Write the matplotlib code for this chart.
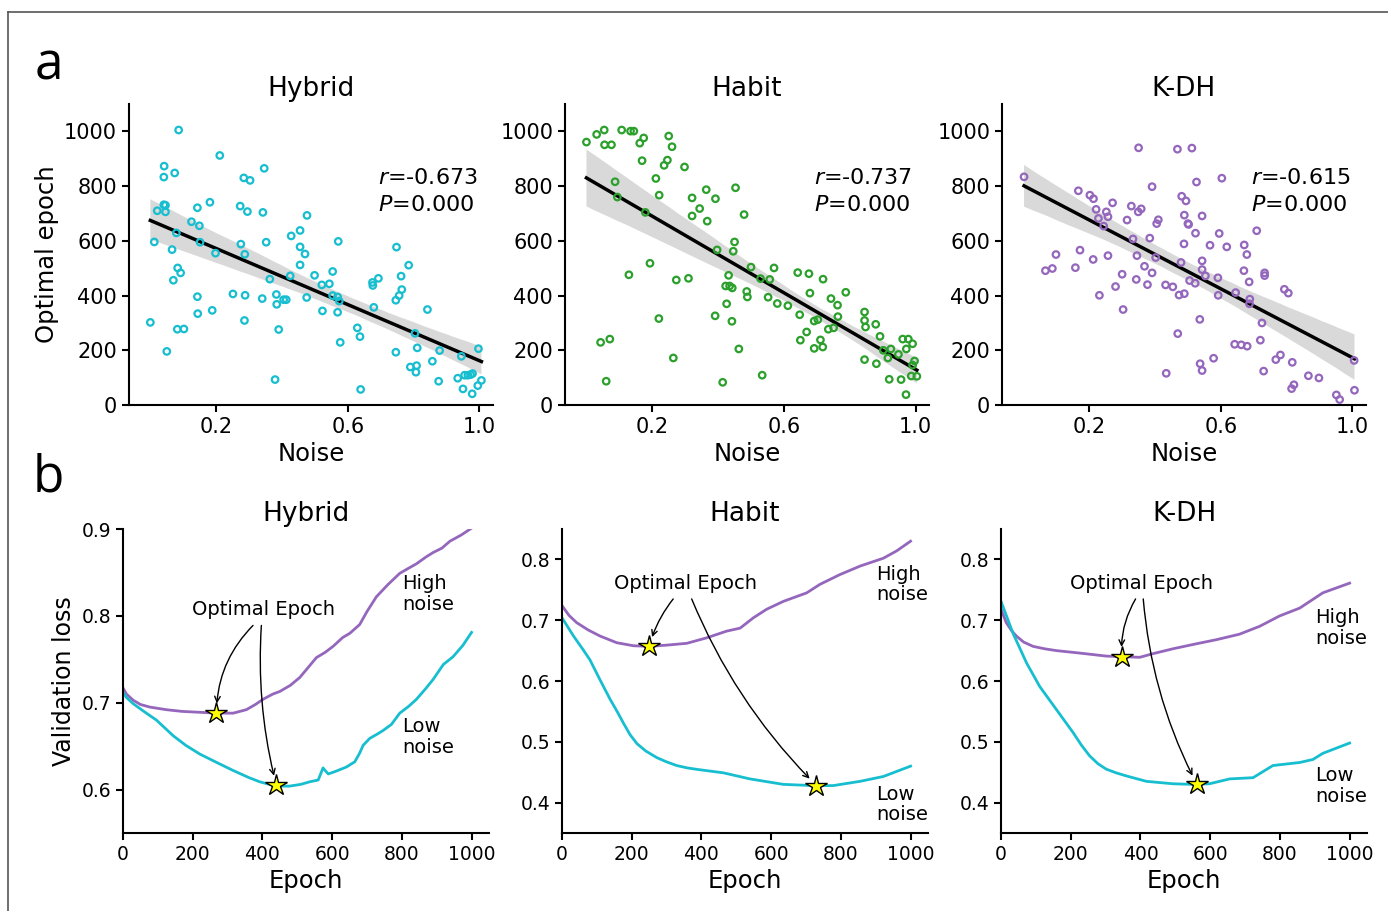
import numpy as np
import matplotlib.pyplot as plt
import seaborn as sns
from matplotlib.lines import Line2D

# ---- panel a: optimal epoch vs noise ----
models = ['Hybrid', 'Habit', 'K-DH']
colors = ['#17becf', '#2ca02c', '#9467bd']
r_vals = ['-0.673', '-0.737', '-0.615']
p_vals = ['0.000', '0.000', '0.000']

hybrid_noise = [0.000, 0.012, 0.021, 0.041, 0.046, 0.046, 0.041, 0.042, 0.074, 0.086,
                0.050, 0.066, 0.070, 0.079, 0.083, 0.092, 0.082, 0.102, 0.125, 0.143,
                0.149, 0.151, 0.143, 0.144, 0.181, 0.188, 0.198, 0.211, 0.251, 0.273,
                0.275, 0.284, 0.287, 0.288, 0.286, 0.295, 0.303, 0.340, 0.342, 0.346,
                0.352, 0.363, 0.379, 0.383, 0.384, 0.390, 0.405, 0.413, 0.425, 0.428,
                0.455, 0.455, 0.455, 0.470, 0.476, 0.475, 0.499, 0.521, 0.523, 0.544,
                0.554, 0.554, 0.571, 0.569, 0.569, 0.574, 0.577, 0.629, 0.637, 0.639,
                0.675, 0.676, 0.679, 0.693, 0.746, 0.748, 0.746, 0.756, 0.762, 0.764,
                0.785, 0.790, 0.804, 0.809, 0.807, 0.811, 0.842, 0.857, 0.876, 0.879,
                0.934, 0.945, 0.950, 0.955, 0.965, 0.973, 0.978, 0.979, 0.995, 0.997, 1.006]
hybrid_epoch = [302, 596, 710, 732, 730, 706, 833, 873, 848, 1005,
                196, 568, 456, 629, 501, 483, 277, 278, 670, 721,
                655, 595, 396, 334, 741, 346, 555, 912, 406, 727,
                588, 830, 551, 401, 309, 707, 821, 389, 704, 865,
                595, 460, 93, 404, 368, 276, 385, 385, 472, 618,
                638, 578, 512, 552, 693, 393, 474, 439, 344, 443,
                488, 400, 598, 395, 339, 380, 229, 282, 250, 57,
                448, 437, 357, 463, 193, 577, 383, 400, 471, 422,
                511, 139, 262, 144, 120, 209, 349, 160, 87, 199,
                98, 178, 59, 109, 109, 111, 41, 115, 71, 206, 90]

habit_noise = [0.000, 0.031, 0.054, 0.055, 0.076, 0.107, 0.134, 0.144, 0.162, 0.174,
               0.087, 0.094, 0.169, 0.179, 0.211, 0.221, 0.236, 0.246, 0.250, 0.260,
               0.298, 0.321, 0.321, 0.344, 0.367, 0.364, 0.392, 0.453, 0.479, 0.397,
               0.450, 0.446, 0.432, 0.423, 0.435, 0.443, 0.426, 0.442, 0.391, 0.414,
               0.463, 0.534, 0.500, 0.529, 0.557, 0.570, 0.487, 0.489, 0.552, 0.580,
               0.612, 0.642, 0.676, 0.679, 0.719, 0.743, 0.763, 0.764, 0.788, 0.648,
               0.669, 0.650, 0.692, 0.703, 0.692, 0.711, 0.718, 0.735, 0.751, 0.845,
               0.845, 0.848, 0.879, 0.892, 0.845, 0.881, 0.902, 0.916, 0.925, 0.948,
               0.920, 0.956, 0.961, 0.978, 0.991, 0.972, 0.971, 0.987, 0.991, 0.997,
               1.004, 0.129, 0.193, 0.273, 0.310, 0.220, 0.264, 0.043, 0.071, 0.060]
habit_epoch = [961, 989, 1005, 951, 951, 1005, 1001, 1001, 957, 976,
               816, 760, 893, 704, 828, 767, 876, 895, 983, 944,
               870, 757, 691, 718, 672, 787, 754, 794, 696, 567,
               596, 562, 474, 435, 435, 428, 370, 306, 326, 83,
               205, 109, 504, 462, 459, 501, 415, 395, 394, 371,
               363, 484, 480, 409, 460, 389, 365, 323, 412, 330,
               267, 237, 307, 312, 207, 238, 212, 277, 282, 340,
               309, 285, 295, 251, 166, 151, 200, 172, 205, 185,
               94, 93, 241, 241, 224, 205, 38, 106, 146, 161,
               105, 476, 518, 457, 463, 316, 172, 229, 241, 87]

kdh_noise = [0.002, 0.167, 0.202, 0.213, 0.221, 0.228, 0.244, 0.252, 0.257, 0.271,
             0.328, 0.349, 0.358, 0.315, 0.333, 0.384, 0.391, 0.350, 0.405, 0.410,
             0.468, 0.512, 0.526, 0.603, 0.481, 0.494, 0.489, 0.502, 0.500, 0.543,
             0.523, 0.488, 0.595, 0.567, 0.618, 0.671, 0.679, 0.709, 0.099, 0.172,
             0.212, 0.257, 0.345, 0.368, 0.391, 0.402, 0.479, 0.543, 0.543, 0.553,
             0.067, 0.088, 0.158, 0.300, 0.343, 0.377, 0.280, 0.432, 0.454, 0.473,
             0.489, 0.505, 0.522, 0.591, 0.592, 0.645, 0.670, 0.686, 0.688, 0.687,
             0.733, 0.733, 0.793, 0.805, 0.231, 0.303, 0.536, 0.469, 0.725, 0.720,
             0.642, 0.662, 0.680, 0.578, 0.537, 0.543, 0.434, 0.767, 0.781, 0.817,
             0.730, 0.822, 0.815, 0.866, 0.898, 0.951, 0.961, 1.005, 1.006]
kdh_epoch = [834, 783, 767, 754, 715, 682, 654, 706, 688, 739,
             727, 706, 717, 676, 607, 610, 798, 940, 663, 677,
             935, 939, 815, 829, 763, 746, 694, 660, 663, 691,
             628, 589, 627, 584, 578, 585, 550, 637, 550, 566,
             532, 546, 546, 507, 483, 539, 521, 527, 495, 472,
             491, 499, 502, 478, 459, 440, 433, 439, 432, 402,
             407, 455, 445, 465, 401, 411, 491, 450, 387, 370,
             483, 473, 423, 409, 401, 349, 313, 261, 300, 237,
             222, 220, 215, 171, 151, 126, 116, 166, 183, 156,
             124, 74, 60, 107, 99, 37, 20, 163, 54]

scatter_data = [(hybrid_noise, hybrid_epoch), (habit_noise, habit_epoch), (kdh_noise, kdh_epoch)]

# ---- panel b: validation loss curves ----
hybrid_high_ep = [0, 10, 29, 50, 77, 124, 170, 220, 268, 316, 354, 380, 402, 430, 450, 480, 507, 530, 555, 580,
                  603, 630, 651, 679, 700, 727, 760, 794, 820, 842, 870, 890, 915, 938, 970, 1000]
hybrid_high_loss = [0.717, 0.710, 0.703, 0.698, 0.695, 0.692, 0.690, 0.689, 0.688, 0.688, 0.692, 0.698, 0.704,
                    0.710, 0.713, 0.720, 0.729, 0.740, 0.752, 0.758, 0.765, 0.775, 0.780, 0.790, 0.805, 0.822,
                    0.836, 0.849, 0.855, 0.860, 0.868, 0.873, 0.878, 0.886, 0.893, 0.901]
hybrid_low_ep = [0, 10, 29, 60, 96, 120, 144, 180, 220, 270, 316, 360, 392, 420, 440, 460, 478, 510, 536, 560,
                 568, 574, 580, 589, 610, 641, 665, 679, 689, 708, 730, 746, 770, 794, 820, 842, 870, 890, 919,
                 947, 975, 1000]
hybrid_low_loss = [0.712, 0.706, 0.699, 0.690, 0.680, 0.671, 0.662, 0.651, 0.641, 0.631, 0.622, 0.614, 0.609,
                   0.606, 0.604, 0.604, 0.604, 0.606, 0.609, 0.611, 0.619, 0.625, 0.622, 0.618, 0.621, 0.626,
                   0.632, 0.642, 0.651, 0.659, 0.664, 0.668, 0.675, 0.688, 0.696, 0.704, 0.717, 0.727, 0.744,
                   0.753, 0.766, 0.781]

habit_high_ep = [0, 20, 42, 75, 109, 157, 205, 250, 300, 358, 415, 472, 511, 549, 587, 635, 702, 740, 797, 855,
                 922, 960, 1000]
habit_high_loss = [0.724, 0.708, 0.696, 0.684, 0.674, 0.663, 0.658, 0.657, 0.659, 0.662, 0.671, 0.682, 0.687,
                   0.704, 0.718, 0.731, 0.745, 0.759, 0.775, 0.789, 0.802, 0.814, 0.830]
habit_low_ep = [0, 33, 60, 80, 109, 138, 160, 176, 195, 215, 240, 272, 300, 329, 360, 396, 463, 539, 635, 721,
                778, 855, 922, 1000]
habit_low_loss = [0.704, 0.674, 0.652, 0.635, 0.602, 0.570, 0.548, 0.531, 0.512, 0.497, 0.485, 0.474, 0.467,
                  0.461, 0.457, 0.454, 0.449, 0.439, 0.430, 0.428, 0.428, 0.435, 0.443, 0.460]

kdh_high_ep = [0, 15, 30, 44, 65, 92, 125, 159, 225, 302, 350, 398, 436, 493, 550, 618, 684, 742, 799, 857,
               923, 1000]
kdh_high_loss = [0.718, 0.696, 0.683, 0.674, 0.664, 0.657, 0.653, 0.650, 0.646, 0.641, 0.640, 0.639, 0.645,
                 0.653, 0.660, 0.668, 0.677, 0.690, 0.707, 0.720, 0.745, 0.761]
kdh_low_ep = [0, 34, 73, 111, 159, 207, 230, 254, 278, 302, 330, 359, 417, 493, 550, 598, 656, 723, 780, 857,
              895, 923, 1000]
kdh_low_loss = [0.731, 0.679, 0.630, 0.591, 0.553, 0.515, 0.495, 0.477, 0.464, 0.455, 0.449, 0.444, 0.435,
                0.431, 0.430, 0.431, 0.439, 0.441, 0.461, 0.466, 0.471, 0.481, 0.498]

curves = [(hybrid_high_ep, hybrid_high_loss, hybrid_low_ep, hybrid_low_loss),
          (habit_high_ep, habit_high_loss, habit_low_ep, habit_low_loss),
          (kdh_high_ep, kdh_high_loss, kdh_low_ep, kdh_low_loss)]

opt_high_epoch = [268, 250, 346]
opt_high_loss = [0.688, 0.657, 0.640]
opt_low_epoch = [440, 730, 562]
opt_low_loss = [0.605, 0.428, 0.430]

high_col = '#9467bd'
low_col = '#17becf'

fig = plt.figure(figsize=(13.88, 9.11), dpi=100)

top_left = [0.0929, 0.4071, 0.7219]
bot_left = [0.0886, 0.4049, 0.7212]

for i, name in enumerate(models):
    ax = fig.add_axes([top_left[i], 0.5554, 0.262, 0.3304])
    x, y = scatter_data[i]
    ax.scatter(x, y, s=22, facecolors='none', edgecolors=colors[i], linewidths=1.6, zorder=3)
    sns.regplot(x=np.array(x), y=np.array(y), scatter=False, ax=ax, color='black',
                line_kws=dict(lw=2.5), seed=0)
    ax.set_xlim(-0.065, 1.04)
    ax.set_ylim(0, 1100)
    ax.set_xticks([0.2, 0.6, 1.0])
    ax.set_xticklabels(['0.2', '0.6', '1.0'])
    ax.set_yticks(range(0, 1001, 200))
    ax.tick_params(labelsize=15, width=1.5, length=5)
    for s in ['top', 'right']:
        ax.spines[s].set_visible(False)
    for s in ['left', 'bottom']:
        ax.spines[s].set_linewidth(1.5)
    ax.set_title(name, fontsize=19)
    ax.set_xlabel('Noise', fontsize=17.5, labelpad=4)
    if i == 0:
        ax.set_ylabel('Optimal epoch', fontsize=17.5)
    ax.text(0.685, 0.71, f'$r$={r_vals[i]}\n$P$={p_vals[i]}', transform=ax.transAxes,
            fontsize=16, ha='left', va='center', linespacing=1.45)

text_pos = [(404, 0.807), (353, 0.7605), (404, 0.7605)]
arrow_start = [[(373, 0.789), (397, 0.789)],
               [(319, 0.735), (372, 0.735)],
               [(386, 0.735), (408, 0.735)]]
arrow_rad = [(0.2, 0.08), (0.1, 0.1), (0.15, 0.1)]
high_lab = [(802, 0.848), (902, 0.791), (902, 0.720)]
low_lab = [(802, 0.683), (902, 0.429), (902, 0.460)]

for i, name in enumerate(models):
    ax = fig.add_axes([bot_left[i], 0.0856, 0.2637, 0.3337])
    he, hl, le, ll = curves[i]
    ax.plot(he, hl, color=high_col, lw=2)
    ax.plot(le, ll, color=low_col, lw=2)
    ax.plot([opt_high_epoch[i], opt_low_epoch[i]], [opt_high_loss[i], opt_low_loss[i]], ls='none',
            marker='*', ms=16, mfc='yellow', mec='black', mew=1, zorder=5)
    ax.text(text_pos[i][0], text_pos[i][1], 'Optimal Epoch', fontsize=14, ha='center', va='center')
    targets = [(opt_high_epoch[i], opt_high_loss[i]), (opt_low_epoch[i], opt_low_loss[i])]
    for j in range(2):
        ax.annotate('', xy=targets[j], xytext=arrow_start[i][j],
                    arrowprops=dict(arrowstyle='->', color='black', lw=1, shrinkA=0, shrinkB=7,
                                    connectionstyle=f'arc3,rad={arrow_rad[i][j]}'))
    ax.text(high_lab[i][0], high_lab[i][1], 'High\nnoise', fontsize=14, ha='left', va='top', linespacing=1.1)
    ax.text(low_lab[i][0], low_lab[i][1], 'Low\nnoise', fontsize=14, ha='left', va='top', linespacing=1.1)
    ax.set_xlim(0, 1050)
    ax.set_xticks(range(0, 1001, 200))
    if i == 0:
        ax.set_ylim(0.55, 0.9)
        ax.set_yticks([0.6, 0.7, 0.8, 0.9])
        ax.set_ylabel('Validation loss', fontsize=17)
    else:
        ax.set_ylim(0.35, 0.85)
        ax.set_yticks([0.4, 0.5, 0.6, 0.7, 0.8])
    ax.tick_params(labelsize=13.5, width=1.5, length=5)
    for s in ['top', 'right']:
        ax.spines[s].set_visible(False)
    for s in ['left', 'bottom']:
        ax.spines[s].set_linewidth(1.5)
    ax.set_title(name, fontsize=19)
    ax.set_xlabel('Epoch', fontsize=17.5, labelpad=4)

fig.text(35 / 1388, 1 - 80 / 911, 'a', fontsize=37, family='Open Sans', ha='left', va='baseline')
fig.text(33 / 1388, 1 - 492 / 911, 'b', fontsize=37, family='Open Sans', ha='left', va='baseline')

# thin frame like the original figure edge
fig.add_artist(Line2D([8 / 1388, 1], [1 - 12 / 911] * 2, transform=fig.transFigure, color='#555555', lw=1.2))
fig.add_artist(Line2D([8 / 1388] * 2, [0, 1 - 12 / 911], transform=fig.transFigure, color='#555555', lw=1.2))

fig.savefig('out.png', dpi=100)
